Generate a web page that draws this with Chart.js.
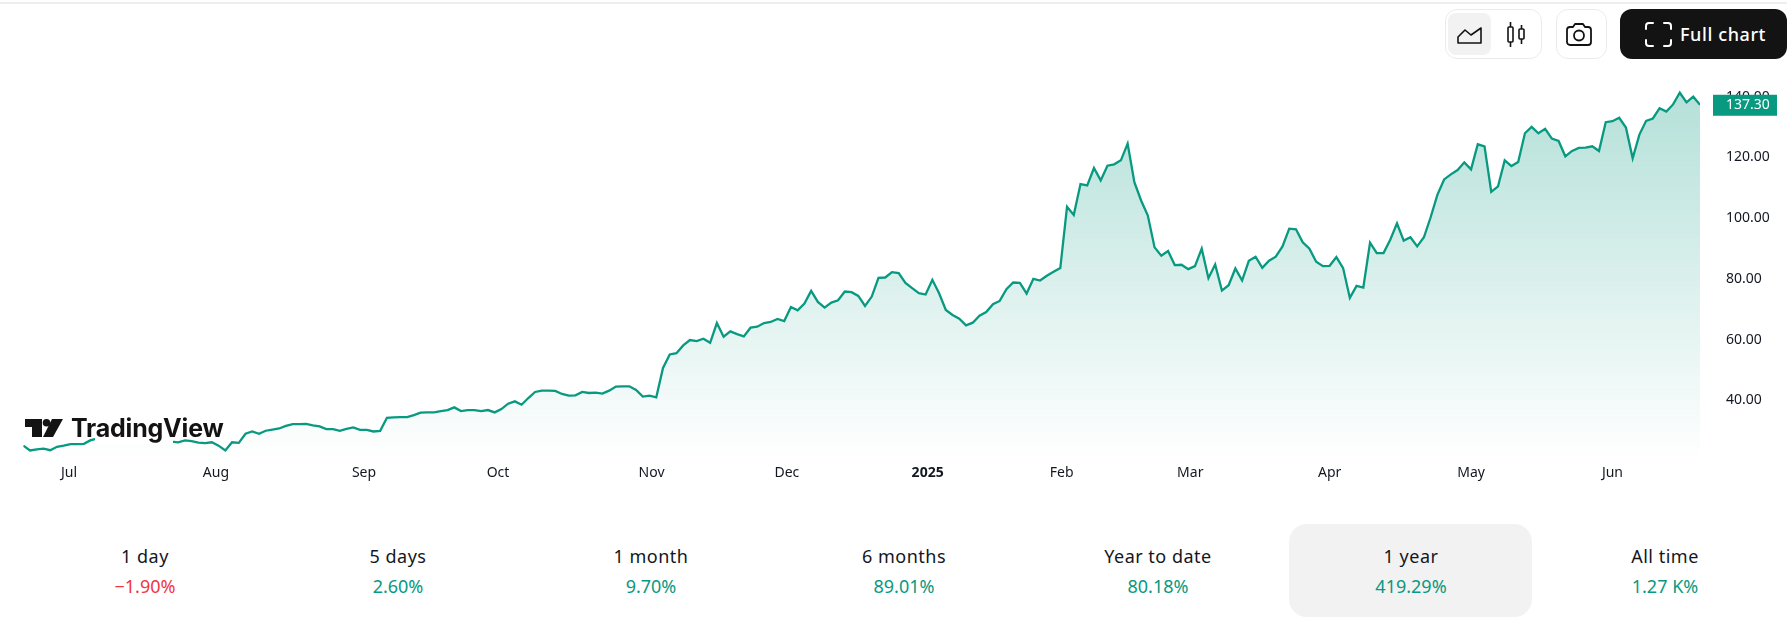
<!DOCTYPE html>
<html>
<head>
<meta charset="utf-8">
<script src="https://cdn.jsdelivr.net/npm/chart.js@4"></script>
<style>
html, body { margin: 0; padding: 0; background: #fff; }
body { position: relative; width: 1787px; height: 627px; overflow: hidden; font-family: "Noto Sans", sans-serif; color: #131722; }
#topline { position: absolute; left: 0; top: 2px; width: 100%; height: 2px; background: #eeeeee; }
#price-chart { position: absolute; left: 0; top: 0; }
#logo-mask { position: absolute; left: 95px; top: 420px; width: 78px; height: 24px; background: #fff; }
#logo-icon { position: absolute; left: 25px; top: 419px; }
#logo-text { position: absolute; left: 71px; top: 412px; font: 700 25px/32px Inter, sans-serif; letter-spacing: -0.2px; color: #131313; }
.box { position: absolute; top: 9px; height: 48px; border: 1px solid #ebebeb; border-radius: 12px; box-sizing: content-box; }
#chip { position: absolute; left: 1448px; top: 13px; width: 43px; height: 42px; background: #f2f2f2; border-radius: 8px; }
.icon { position: absolute; }
#full-chart { position: absolute; left: 1620px; top: 9px; width: 167px; height: 50px; background: #131313; border-radius: 12px 12px 12px 12px; }
#full-text { position: absolute; left: 1680px; top: 20px; font: 500 18px/28px "Noto Sans", sans-serif; letter-spacing: 0.6px; color: #fff; white-space: nowrap; }
#selected { position: absolute; left: 1289px; top: 524px; width: 243px; height: 93px; background: #f2f2f2; border-radius: 18px; }
.tab-name, .tab-value { position: absolute; width: 240px; margin-left: -120px; text-align: center; font-size: 18px; line-height: 26px; white-space: nowrap; }
.tab-name { top: 543px; color: #131722; letter-spacing: 0.5px; }
.tab-value { top: 573px; }
</style>
</head>
<body>
<div id="topline"></div>
<canvas id="price-chart"></canvas>
<div id="logo-mask"></div>
<svg id="logo-icon" width="38" height="18" viewBox="0 0 38 18">
  <path d="M0 0H17V18H7V8H0Z" fill="#131313"/>
  <circle cx="21.5" cy="3.8" r="3.8" fill="#131313"/>
  <path d="M27 0H38L28 18H18Z" fill="#131313"/>
</svg>

<div class="box" style="left:1445px;width:95px"></div>
<div id="chip"></div>
<svg class="icon" style="left:1456px;top:26px" width="27" height="19" viewBox="0 0 27 19" fill="none" stroke="#131313" stroke-width="1.6">
  <path d="M2 17V11L9 4L15 9L25 2V17Z" stroke-linejoin="round"/>
</svg>
<svg class="icon" style="left:1506px;top:21px" width="20" height="27" viewBox="0 0 20 27" fill="none" stroke="#131313" stroke-width="1.6">
  <rect x="2" y="6" width="5" height="15" rx="1"/><path d="M4.5 1V6M4.5 21V26"/>
  <rect x="13" y="8" width="5" height="10" rx="1"/><path d="M15.5 4V8M15.5 18V23"/>
</svg>
<div class="box" style="left:1556px;width:49px"></div>
<svg class="icon" style="left:1565px;top:22px" width="28" height="25" viewBox="0 0 28 25" fill="none" stroke="#131313" stroke-width="1.8">
  <path d="M2 8a3 3 0 0 1 3-3h3l2-3h8l2 3h3a3 3 0 0 1 3 3v12a3 3 0 0 1-3 3H5a3 3 0 0 1-3-3Z" stroke-linejoin="round"/>
  <circle cx="14" cy="13.5" r="5"/>
</svg>
<div id="full-chart"></div>
<svg class="icon" style="left:1645px;top:22px" width="27" height="25" viewBox="0 0 27 25" fill="none" stroke="#fff" stroke-width="2" stroke-linecap="round">
  <path d="M1 7V4a3 3 0 0 1 3-3h4M19 1h4a3 3 0 0 1 3 3v3M26 18v3a3 3 0 0 1-3 3h-4M8 24H4a3 3 0 0 1-3-3v-3"/>
</svg>
<div id="full-text">Full chart</div>

<div id="selected"></div>
<div id="logo-text">TradingView</div>
<div id="tabs"></div>

<script>
// one close per trading day
var priceValues = [
    25.1, 23.5, 23.9, 24.1, 23.6, 24.7, 25.1, 25.6, 25.6, 25.7, 26.9, 27.4,
    27.8, 27.7, 28.0, 27.8, 28.0, 28.4, 28.9, 29.0, 28.6, 28.1,
    26.45, 26.2, 26.8, 26.55, 26.1, 25.9, 26.2, 25.1, 23.5, 26.2, 26.0, 29.0, 29.75, 29.0, 30.0, 30.4, 30.75, 31.6, 32.2, 32.2,
    32.29, 31.74, 31.41, 30.53, 30.53, 29.98, 30.64, 31.08, 30.31, 30.31, 29.76, 29.98,
    34.27, 34.38, 34.49, 34.49, 35.15, 35.93, 36.04, 36.04, 36.48, 36.81, 37.69, 36.48, 36.81, 36.81, 36.48, 36.81, 36.04, 37.14,
    38.9, 39.67, 38.57, 40.77, 42.76, 43.2, 43.2, 43.09, 42.1, 41.55, 41.66, 42.76, 42.43,
    42.54, 42.21, 43.2, 44.52, 44.63, 44.63, 43.42, 41.22, 41.55, 41.0,
    50.69, 55.1, 55.54, 58.08, 59.84, 59.51, 60.28, 58.96, 65.46, 60.94, 62.7, 61.82, 61.05, 63.92, 64.25, 65.46, 65.79, 66.78, 66.12,
    70.75, 69.65, 71.85, 76.04, 72.4, 70.53, 72.18, 72.95, 75.82, 75.6, 74.38, 71.08,
    74.16, 80.33, 80.44, 82.21, 81.88, 78.68, 76.92, 75.27, 74.83, 79.67, 75.27, 69.76, 68.1, 66.89, 64.69, 65.57, 67.88, 69.09, 71.63, 72.73,
    76.59, 78.79, 78.68, 75.16, 80.0, 79.45, 81.0, 82.32, 83.53,
    103.7, 101.05, 111.2, 110.75, 116.48, 112.4, 117.25, 117.69, 119.01, 124.52, 111.85, 105.79, 100.83,
    90.36, 87.6, 89.15, 84.52, 84.63, 83.2, 84.19, 89.92, 80.22, 84.74, 76.15, 77.91, 83.42, 79.45, 85.95, 87.28, 83.64, 85.95, 87.28, 90.69,
    96.53, 96.31, 92.01, 89.92, 85.62, 84.19, 84.3, 87.17, 83.53, 73.72, 77.69, 77.14, 91.9, 88.49, 88.49, 92.9, 98.3, 92.57, 93.67, 90.69, 93.67,
    100.27, 107.65, 112.72, 114.38, 115.81, 118.34, 116.03, 124.29, 123.63, 108.65, 110.41, 119.0, 117.13, 118.45,
    127.93, 130.02, 127.93, 129.36, 126.17, 125.39, 120.33, 122.09, 123.08, 123.19, 123.63, 122.09,
    131.57, 131.9, 133.0, 129.8, 119.67, 127.49, 132.01, 132.78, 136.19, 135.09, 137.41, 141.26, 138.07, 139.94, 137.30
];
var monthLabels = ['Jul', 'Aug', 'Sep', 'Oct', 'Nov', 'Dec', '2025', 'Feb', 'Mar', 'Apr', 'May', 'Jun'];
// where each month label sits, counted in trading days from the first close
var monthStarts = [6.8, 28.6, 50.6, 70.5, 93.3, 113.4, 134.3, 154.2, 173.3, 194, 215, 236];
var priceTicks = [40, 60, 80, 100, 120, 140];
var lastPrice = 137.30;
var tabNames = ['1 day', '5 days', '1 month', '6 months', 'Year to date', '1 year', 'All time'];
var tabValues = ['\u22121.90%', '2.60%', '9.70%', '89.01%', '80.18%', '419.29%', '1.27\u00a0K%'];
var tabCentres = [145, 398, 651, 904, 1158, 1411, 1665];

var green = '#089981';
var red = '#f23645';
var ink = '#131722';
var axisFont = { family: '"Noto Sans", sans-serif', size: 14 };

var tabs = document.getElementById('tabs');
tabNames.forEach(function (name, i) {
    var a = document.createElement('div');
    a.className = 'tab-name';
    a.style.left = tabCentres[i] + 'px';
    a.textContent = name;
    var b = document.createElement('div');
    b.className = 'tab-value';
    b.style.left = tabCentres[i] + 'px';
    b.style.color = tabValues[i].charAt(0) === '\u2212' ? red : green;
    b.textContent = tabValues[i];
    tabs.appendChild(a);
    tabs.appendChild(b);
});

// the little green box with the last price, on top of the axis labels
var lastPriceLabel = {
    id: 'lastPriceLabel',
    afterDraw: function (chart) {
        var ctx = chart.ctx;
        var y = chart.scales.y.getPixelForValue(lastPrice);
        ctx.save();
        ctx.fillStyle = green;
        ctx.fillRect(1713, y - 10, 64, 21);
        ctx.fillStyle = '#ffffff';
        ctx.font = '14px "Noto Sans", sans-serif';
        ctx.textBaseline = 'middle';
        ctx.textAlign = 'left';
        ctx.fillText(lastPrice.toFixed(2), 1726, y + 0.5);
        ctx.restore();
    }
};

var canvas = document.getElementById('price-chart');
canvas.style.width = '1787px';
canvas.style.height = '494px';
canvas.width = 1787;
canvas.height = 494;

var priceChart = new Chart(canvas, {
    type: 'line',
    data: {
        datasets: [{
            data: priceValues.map(function (v, i) { return { x: i, y: v }; }),
            borderColor: green,
            borderWidth: 2.3,
            pointRadius: 0,
            tension: 0,
            fill: 'start',
            backgroundColor: function (context) {
                var chart = context.chart;
                if (!chart.chartArea) return 'rgba(8,153,129,0.1)';
                var top = chart.scales.y.getPixelForValue(Math.max.apply(null, priceValues));
                var g = chart.ctx.createLinearGradient(0, top, 0, chart.chartArea.bottom);
                g.addColorStop(0, 'rgba(8,153,129,0.3)');
                g.addColorStop(1, 'rgba(8,153,129,0)');
                return g;
            }
        }]
    },
    options: {
        responsive: false,
        animation: false,
        devicePixelRatio: 1,
        layout: { padding: { left: 23.3, top: 68, right: 0, bottom: 0 } },
        plugins: { legend: { display: false }, tooltip: { enabled: false } },
        scales: {
            x: {
                type: 'linear',
                min: 0,
                max: priceValues.length - 1,
                grid: { display: false, drawTicks: false },
                border: { display: false },
                afterFit: function (scale) { scale.height = 28; },
                afterBuildTicks: function (scale) {
                    scale.ticks = monthStarts.map(function (v) { return { value: v }; });
                },
                ticks: {
                    autoSkip: false,
                    maxRotation: 0,
                    padding: 5,
                    color: ink,
                    font: function (context) {
                        var bold = context.tick && context.tick.label === '2025';
                        return { family: axisFont.family, size: axisFont.size, weight: bold ? 'bold' : 'normal' };
                    },
                    callback: function (value) {
                        return monthLabels[monthStarts.indexOf(value)];
                    }
                }
            },
            y: {
                position: 'right',
                min: 20.5,
                max: 149.4,
                grid: { display: false, drawTicks: false },
                border: { display: false },
                afterFit: function (scale) { scale.width = 87; },
                afterBuildTicks: function (scale) {
                    scale.ticks = priceTicks.map(function (v) { return { value: v }; });
                },
                ticks: {
                    padding: 26,
                    color: ink,
                    font: axisFont,
                    callback: function (value) { return value.toFixed(2); }
                }
            }
        }
    },
    plugins: [lastPriceLabel]
});
</script>
</body>
</html>
